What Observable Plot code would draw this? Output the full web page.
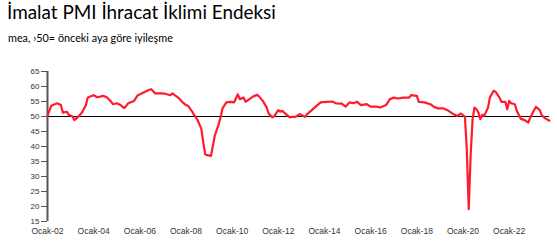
<!DOCTYPE html>
<html>
<head>
<meta charset="utf-8">
<script src="https://cdn.jsdelivr.net/npm/d3@7"></script>
<script src="https://cdn.jsdelivr.net/npm/@observablehq/plot@0.6"></script>
<style>
  html, body { margin: 0; padding: 0; background: #fff; }
  #wrap { position: relative; width: 557px; height: 247px; overflow: hidden; }
  #title { position: absolute; left: 7px; top: 3px; font-family: Lato, "Open Sans", sans-serif; font-size: 17px; line-height: 1; color: #000; white-space: nowrap; }
  #subtitle { position: absolute; left: 8px; top: 33px; font-family: Lato, "Open Sans", sans-serif; font-size: 11px; line-height: 1; color: #000; white-space: nowrap; }
  #chart { position: absolute; left: 0; top: 0; }
</style>
</head>
<body>
<div id="wrap">
  <div id="chart"></div>
  <div id="title">İmalat PMI İhracat İklimi Endeksi</div>
  <div id="subtitle">mea, ›50= önceki aya göre iyileşme</div>
</div>
<script>
const months = [
  "2002-01","2002-03","2002-06","2002-08","2002-09","2002-11","2002-12",
  "2003-02","2003-03","2003-05","2003-07","2003-09","2003-10",
  "2004-01","2004-03","2004-05","2004-06","2004-08","2004-10","2004-11",
  "2005-01","2005-03","2005-05","2005-07","2005-10","2005-12",
  "2006-03","2006-06","2006-07","2006-09","2006-12",
  "2007-02","2007-05","2007-06","2007-07","2007-09","2007-11",
  "2008-01","2008-02","2008-04","2008-05","2008-07","2008-09","2008-10","2008-11","2008-12",
  "2009-02","2009-03","2009-04","2009-06","2009-07","2009-08","2009-10","2009-12",
  "2010-02","2010-03","2010-04","2010-05","2010-07","2010-08","2010-10","2010-12",
  "2011-02","2011-03","2011-05","2011-07","2011-08","2011-10","2011-11",
  "2012-01","2012-02","2012-03","2012-05","2012-07","2012-08","2012-10","2012-12",
  "2013-02","2013-03","2013-04","2013-06","2013-09","2013-11",
  "2014-02","2014-05","2014-07","2014-10","2014-12",
  "2015-02","2015-04","2015-06","2015-08","2015-11",
  "2016-01","2016-04","2016-06","2016-09","2016-11",
  "2017-01","2017-03","2017-06","2017-07","2017-09","2017-10",
  "2018-01","2018-02","2018-05","2018-08","2018-10","2018-12",
  "2019-03","2019-05","2019-08","2019-10","2019-12",
  "2020-02","2020-03","2020-04","2020-05","2020-06","2020-07","2020-08","2020-09","2020-10","2020-11","2020-12",
  "2021-02","2021-03","2021-05","2021-06","2021-08","2021-09","2021-11","2021-12",
  "2022-01","2022-02","2022-04","2022-05","2022-07","2022-09","2022-11","2022-12",
  "2023-02","2023-03","2023-05","2023-06","2023-08","2023-10"
];
const pmi = [
  50.2,53.6,54.4,53.8,51.3,51.6,50.6,
  50.0,48.8,49.9,51.3,53.8,56.3,
  57.1,56.4,56.7,56.9,56.3,55.0,54.1,
  54.4,53.8,52.8,54.4,55.2,57.1,
  58.0,58.9,59.1,57.7,57.7,
  57.6,57.1,57.7,57.2,56.3,54.9,
  53.8,53.6,51.9,50.8,48.9,45.8,41.3,37.4,37.1,
  36.9,40.2,43.6,47.4,49.7,52.7,54.7,54.9,
  54.7,56.0,57.4,55.8,56.3,54.9,55.8,56.7,
  57.2,56.7,55.2,53.0,51.0,49.7,50.2,
  52.1,51.6,51.9,50.8,49.7,49.9,49.9,50.8,
  50.2,49.9,50.8,51.9,53.6,54.7,
  54.9,55.0,54.4,54.3,53.3,
  54.7,54.4,54.9,53.8,54.1,
  53.3,53.3,53.0,53.8,55.8,
  56.3,56.0,56.3,56.3,56.3,57.1,
  56.9,54.9,54.7,54.1,53.2,52.7,
  52.7,52.1,50.8,50.2,51.0,
  49.9,39.1,19.1,36.9,49.1,53.0,52.4,51.3,49.1,50.6,50.2,
  53.0,56.3,58.6,58.2,56.3,54.9,54.9,52.4,
  55.2,54.4,54.1,51.9,49.3,48.8,48.0,49.7,
  52.2,53.2,52.1,50.4,49.3,48.6
];
const yTicks = [15,20,25,30,35,40,45,50,55,60,65];
const xTickYears = [2002,2004,2006,2008,2010,2012,2014,2016,2018,2020,2022];
const threshold = [50];

const parse = d3.utcParse("%Y-%m");
const data = months.map((m, i) => ({date: parse(m), value: pmi[i]}));
const xTicks = xTickYears.map(y => new Date(Date.UTC(y, 0, 1)));
const xDomain = [data[0].date, data[data.length - 1].date];

const chart = Plot.plot({
  width: 557,
  height: 247,
  marginTop: 71,
  marginBottom: 26,
  marginLeft: 47,
  marginRight: 8,
  style: {fontFamily: "'Liberation Sans', Arial, sans-serif", fontSize: "8.5px", color: "#333", background: "transparent"},
  x: {type: "utc", domain: xDomain},
  y: {domain: [15, 65]},
  marks: [
    Plot.axisY({ticks: yTicks, tickSize: 6, tickPadding: 2, label: null, stroke: "#555", fontSize: 8}),
    Plot.axisX({ticks: xTicks, tickSize: 0, tickPadding: 6, label: null, tickFormat: d => "Ocak-" + d3.utcFormat("%y")(d)}),
    Plot.ruleX([xDomain[0]], {y1: 15, y2: 65, stroke: "#555", strokeWidth: 2}),
    Plot.ruleY(threshold, {stroke: "#000", strokeWidth: 1.2}),
    Plot.line(data, {x: "date", y: "value", stroke: "#ff1a2e", strokeWidth: 2.2})
  ]
});
document.getElementById("chart").appendChild(chart);

function fit(id, target) {
  const el = document.getElementById(id);
  const w = el.getBoundingClientRect().width;
  const fs = parseFloat(getComputedStyle(el).fontSize);
  el.style.fontSize = (fs * target / w) + "px";
}
fit("title", 269);
fit("subtitle", 165);
</script>
</body>
</html>
